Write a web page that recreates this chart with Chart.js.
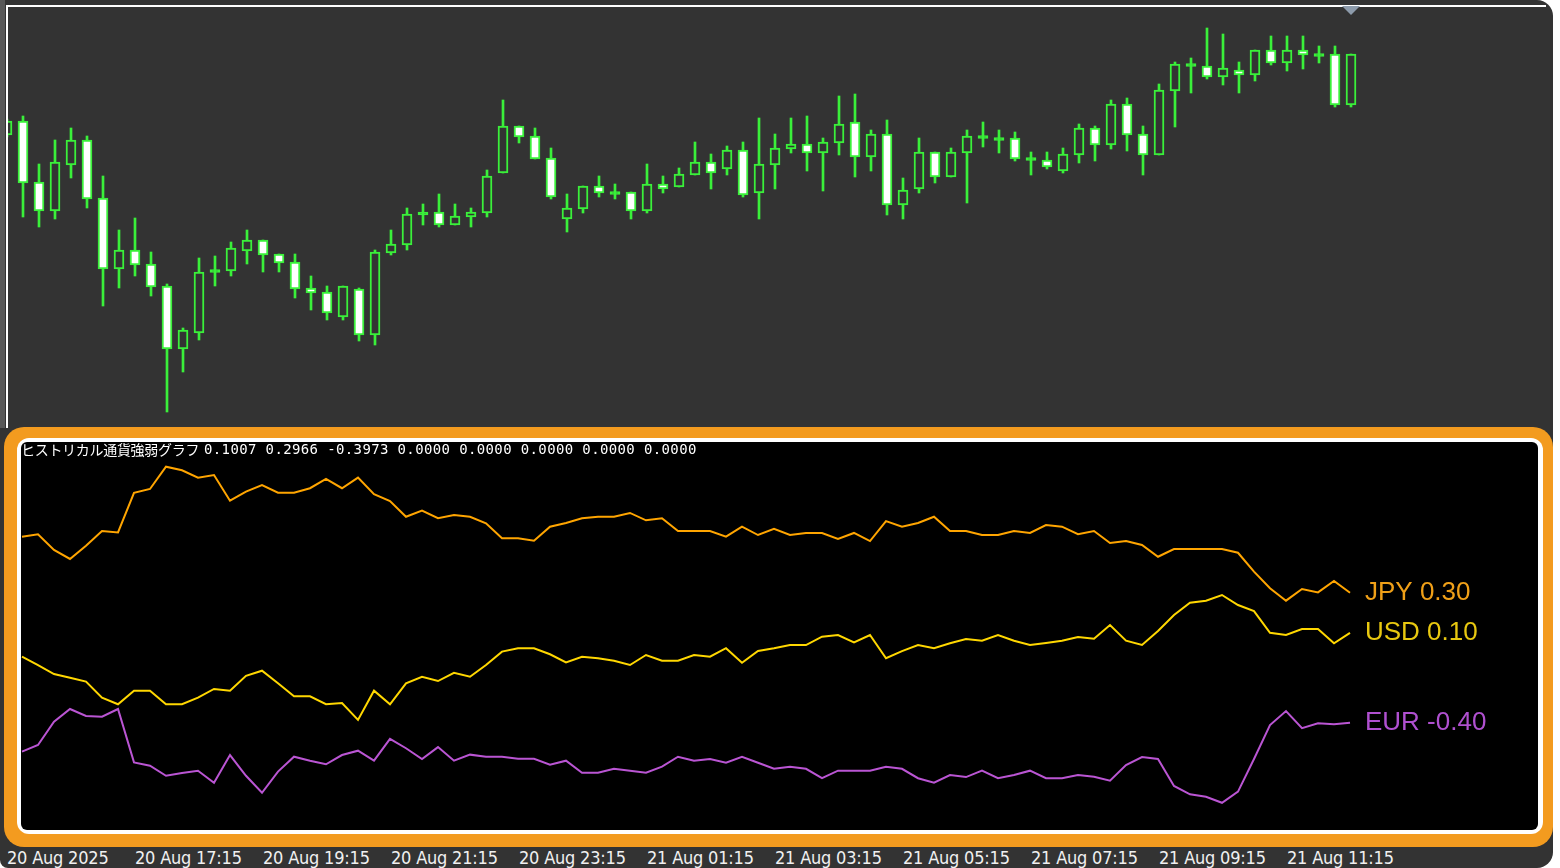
<!DOCTYPE html>
<html>
<head>
<meta charset="utf-8">
<script src="https://cdn.jsdelivr.net/npm/chart.js@4.4.1/dist/chart.umd.min.js"></script>
<style>
html, body { margin:0; padding:0; background:#fff; width:1560px; height:868px; overflow:hidden; }
#win { position:absolute; left:0; top:0; width:1553px; height:868px; background:#333; border-radius:0 16px 16px 8px; }
#edge { position:absolute; left:0; top:0; width:5px; height:428px; background:#585858; }
#topline { position:absolute; left:6px; top:5px; width:1540px; height:2px; background:#fff; }
#leftline { position:absolute; left:6px; top:5px; width:2px; height:423px; background:#fff; }
#shift { position:absolute; left:1342px; top:6px; width:0; height:0; border-left:9px solid transparent; border-right:9px solid transparent; border-top:9px solid #8d9bab; }
#priceChart { position:absolute; left:8px; top:7px; }
#frame { position:absolute; left:4px; top:427px; width:1549px; height:420px; background:#f39b1f; border-radius:20px; }
#inner { position:absolute; left:17px; top:438px; width:1526px; height:396px; background:#fff; border-radius:12px; }
#panel { position:absolute; left:21px; top:442px; width:1517px; height:388px; background:#000; border-radius:6px; }
#strengthChart { position:absolute; left:21px; top:443px; }
#title { position:absolute; left:21px; top:441px; height:16px; font:14px "Noto Sans CJK JP", sans-serif; line-height:16px; color:#fff; white-space:nowrap; letter-spacing:-0.3px; }
#nums { position:absolute; left:204px; top:441px; font:14px "DejaVu Sans Mono", monospace; line-height:16px; color:#fff; white-space:nowrap; letter-spacing:0.37px; }
.tl { position:absolute; top:847px; font:18px "DejaVu Sans Condensed", "DejaVu Sans", sans-serif; font-stretch:condensed; line-height:21px; color:#f0f0f0; white-space:nowrap; letter-spacing:-0.2px; }
</style>
</head>
<body>
<div id="win"></div>
<div id="edge"></div>
<div id="topline"></div>
<div id="leftline"></div>
<canvas id="priceChart" width="1544" height="418"></canvas>
<div id="shift"></div>
<div id="frame"></div>
<div id="inner"></div>
<div id="panel"></div>
<canvas id="strengthChart" width="1517" height="387"></canvas>
<div id="title"></div>
<div id="nums"></div>
<div id="axis"></div>
<script>
// 15 minute bars, bar -1 = 20 Aug 15:15 (price in chart points)
const firstBar = -1;
const barOpen = [295,309,248,219,265,290,232,161,180,166,144,81,97,158,159,179,190,176,168,142,138,113,141,95,177,185,216,218,205,213,217,257,304,294,272,211,221,244,237,238,219,246,243,255,268,261,280,237,265,281,286,277,287,308,273,296,225,241,278,253,277,293,291,292,271,270,259,275,302,285,326,296,275,339,365,364,353,360,355,380,367,380,375,376,325];
const barHigh = [311,314,266,290,302,294,254,200,212,178,146,102,172,174,188,200,190,176,176,154,144,144,142,180,200,222,226,236,226,222,260,330,304,302,282,236,244,254,246,238,266,254,262,288,276,284,288,312,296,312,314,292,334,336,300,310,252,292,278,282,300,308,300,298,278,278,282,306,304,330,332,304,346,368,372,402,396,368,380,394,394,394,384,384,376];
const barLow = [293,213,203,211,252,222,124,142,154,134,18,58,90,144,154,166,158,158,132,120,110,110,89,85,175,180,205,203,205,203,213,257,287,271,231,198,217,233,231,211,217,237,243,255,241,255,233,211,241,277,259,239,275,253,259,215,211,237,247,253,227,283,277,269,255,261,257,267,269,281,279,255,275,303,337,351,345,337,349,365,359,361,367,323,323];
const barClose = [309,247,219,268,290,231,161,180,165,143,81,100,158,160,182,190,175,167,141,137,117,144,95,178,186,216,217,205,214,218,254,304,293,271,233,222,244,237,237,219,246,241,256,268,257,280,235,266,282,286,277,288,306,273,296,225,240,278,253,278,294,293,291,271,271,263,276,302,285,326,295,275,340,366,365,353,362,355,380,367,380,375,375,325,376];

// currency strength, bar 0 .. 83
const jpy = [0.611,0.624,0.541,0.493,0.563,0.641,0.634,0.844,0.864,0.982,0.963,0.924,0.938,0.802,0.850,0.885,0.844,0.844,0.868,0.917,0.868,0.924,0.836,0.800,0.717,0.749,0.709,0.726,0.717,0.682,0.603,0.603,0.590,0.664,0.684,0.709,0.717,0.717,0.737,0.698,0.709,0.641,0.641,0.641,0.611,0.664,0.620,0.653,0.620,0.631,0.631,0.599,0.631,0.588,0.694,0.664,0.684,0.717,0.641,0.641,0.620,0.620,0.641,0.631,0.673,0.664,0.624,0.641,0.578,0.588,0.567,0.505,0.546,0.546,0.546,0.546,0.526,0.426,0.338,0.272,0.334,0.316,0.376,0.314];
const usd = [-0.025,-0.069,-0.117,-0.136,-0.157,-0.242,-0.277,-0.205,-0.205,-0.277,-0.277,-0.242,-0.196,-0.205,-0.126,-0.099,-0.166,-0.235,-0.235,-0.277,-0.270,-0.360,-0.205,-0.277,-0.166,-0.131,-0.154,-0.110,-0.131,-0.069,0.002,0.020,0.020,-0.012,-0.055,-0.025,-0.033,-0.046,-0.069,-0.016,-0.046,-0.046,-0.016,-0.025,0.020,-0.057,0.005,0.020,0.037,0.037,0.081,0.090,0.051,0.090,-0.033,0.005,0.037,0.020,0.046,0.069,0.060,0.090,0.060,0.037,0.048,0.060,0.080,0.070,0.143,0.060,0.037,0.111,0.196,0.261,0.272,0.302,0.249,0.217,0.102,0.090,0.122,0.122,0.046,0.101];
const eur = [-0.528,-0.493,-0.369,-0.302,-0.339,-0.343,-0.302,-0.585,-0.603,-0.656,-0.641,-0.629,-0.693,-0.546,-0.656,-0.746,-0.634,-0.555,-0.576,-0.595,-0.546,-0.523,-0.576,-0.460,-0.510,-0.567,-0.504,-0.576,-0.544,-0.555,-0.555,-0.566,-0.566,-0.597,-0.576,-0.640,-0.640,-0.619,-0.629,-0.640,-0.608,-0.555,-0.576,-0.567,-0.587,-0.555,-0.587,-0.619,-0.608,-0.619,-0.669,-0.629,-0.629,-0.629,-0.608,-0.619,-0.669,-0.693,-0.652,-0.663,-0.629,-0.669,-0.652,-0.629,-0.669,-0.669,-0.652,-0.661,-0.682,-0.599,-0.557,-0.567,-0.710,-0.754,-0.767,-0.799,-0.740,-0.567,-0.387,-0.313,-0.404,-0.378,-0.383,-0.375];

const title = "ヒストリカル通貨強弱グラフ";
const readout = [0.1007, 0.2966, -0.3973, 0.0000, 0.0000, 0.0000, 0.0000, 0.0000];
const timeLabels = ["20 Aug 2025","20 Aug 17:15","20 Aug 19:15","20 Aug 21:15","20 Aug 23:15","21 Aug 01:15","21 Aug 03:15","21 Aug 05:15","21 Aug 07:15","21 Aug 09:15","21 Aug 11:15"];
const timeBars = [-1,7,15,23,31,39,47,55,63,71,79];

const GREEN = "#3af03a";
const STEP = 16;

// candles: wick bars + body bars on a linear x axis
let wicks = [], bodies = [], bodyFill = [];
for (let i = 0; i < barOpen.length; i++) {
  let k = i + firstBar;
  let o = barOpen[i], c = barClose[i];
  wicks.push({x:k, y:[barLow[i], barHigh[i]]});
  let lo = Math.min(o,c), hi = Math.max(o,c);
  if (hi - lo < 3) {
    let m = (hi + lo)/2;
    lo = m - 1.5; hi = m + 1.5;
    bodyFill.push(GREEN);
  } else if (c < o) {
    bodyFill.push("#ffffff");
  } else {
    bodyFill.push("#333333");
  }
  bodies.push({x:k, y:[lo, hi]});
}

let topMin = (8 - 23)/STEP;
let priceChart = new Chart(document.getElementById("priceChart"),{
  type:"bar",
  data:{
    datasets:[
      {data:wicks, backgroundColor:GREEN, borderWidth:0, barThickness:2, grouped:false, order:2},
      {data:bodies, backgroundColor:bodyFill, borderColor:GREEN, borderWidth:2, borderSkipped:false, barThickness:10, grouped:false, order:1}
    ]
  },
  options:{
    responsive:false,
    animation:false,
    devicePixelRatio:1,
    layout:{padding:0},
    plugins:{legend:{display:false}, tooltip:{enabled:false}},
    scales:{
      x:{type:"linear", display:false, offset:false, bounds:"ticks", min:topMin, max:topMin + 1544/STEP},
      y:{display:false, min:5, max:423}
    }
  }
});

// time axis under the frames
let axis = document.getElementById("axis");
timeBars.forEach(function(b, i){
  let s = document.createElement("span");
  s.className = "tl";
  s.textContent = timeLabels[i];
  s.style.left = (8 + priceChart.scales.x.getPixelForValue(b)) + "px";
  axis.appendChild(s);
});

document.getElementById("title").textContent = title;
document.getElementById("nums").textContent = readout.map(function(v){ return v.toFixed(4); }).join(" ");

// end-of-line labels
const endLabels = {
  id:"endLabels",
  afterDatasetsDraw(chart){
    const ctx = chart.ctx;
    ctx.save();
    ctx.font = '26px "Liberation Sans", Arial, sans-serif';
    ctx.textBaseline = "middle";
    chart.data.datasets.forEach(function(ds, i){
      const pts = chart.getDatasetMeta(i).data;
      const p = pts[pts.length - 1];
      ctx.fillStyle = ds.textColor;
      ctx.fillText(ds.label + " " + ds.lastValue.toFixed(2), p.x + 15, p.y);
    });
    ctx.restore();
  }
};

function toPoints(arr){ return arr.map(function(v, i){ return {x:i, y:v}; }); }

let botMin = (21 - 22)/STEP;
let strengthChart = new Chart(document.getElementById("strengthChart"),{
  type:"line",
  data:{
    datasets:[
      {label:"JPY", data:toPoints(jpy), borderColor:"#ffa500", textColor:"#f0a018", lastValue:readout[1]},
      {label:"USD", data:toPoints(usd), borderColor:"#ffd700", textColor:"#e8c810", lastValue:readout[0]},
      {label:"EUR", data:toPoints(eur), borderColor:"#ba55d3", textColor:"#b050d0", lastValue:readout[2]}
    ]
  },
  options:{
    responsive:false,
    animation:false,
    devicePixelRatio:1,
    layout:{padding:0},
    elements:{line:{borderWidth:2, tension:0}, point:{radius:0}},
    plugins:{legend:{display:false}, tooltip:{enabled:false}},
    scales:{
      x:{type:"linear", display:false, min:botMin, max:botMin + 1517/STEP},
      y:{display:false, min:-0.9434, max:1.1077}
    }
  },
  plugins:[endLabels]
});
</script>
</body>
</html>
